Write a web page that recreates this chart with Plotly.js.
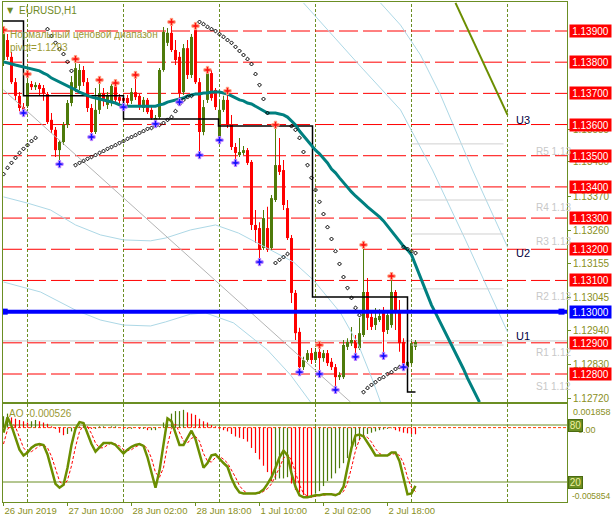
<!DOCTYPE html>
<html><head><meta charset="utf-8">
<script src="https://cdn.plot.ly/plotly-3.0.1.min.js"></script>
<style>html,body{margin:0;padding:0;background:#fff;}#chart{width:613px;height:523px;}</style>
</head><body><div id="chart"></div>
<script>
// ---------- DATA ----------
const tickIdx = [0,16,32,48,64,80,96];
const tickText = ['26 Jun 2019','27 Jun 10:00','28 Jun 02:00','28 Jun 18:00','1 Jul 10:00','2 Jul 02:00','2 Jul 18:00'];
const daySep = [6,30,54,78,102,126];

const open = [
1.13807,1.13871,1.13817,1.13736,1.13692,1.13656,1.13659,1.13730,1.13720,1.13727,
1.13717,1.13698,1.13615,1.13583,1.13518,1.13544,1.13599,1.13669,1.13717,1.13724,
1.13775,1.13736,1.13653,1.13576,1.13647,1.13701,1.13663,1.13669,1.13724,1.13688,
1.13685,1.13685,1.13676,1.13704,1.13692,1.13653,1.13679,1.13647,1.13615,1.13624,
1.13775,1.13862,1.13894,1.13839,1.13817,1.13704,1.13845,1.13759,1.13903,1.13736,
1.13576,1.13679,1.13765,1.13711,1.13557,1.13647,1.13679,1.13599,1.13528,1.13502,
1.13509,1.13518,1.13480,1.13278,1.13268,1.13204,1.13268,1.13204,1.13358,1.13470,
1.13454,1.13332,1.13236,1.13060,1.12935,1.12822,1.12845,1.12867,1.12845,1.12871,
1.12851,1.12867,1.12839,1.12822,1.12790,1.12790,1.12887,1.12899,1.12909,1.12883,
1.12925,1.13063,1.12983,1.12957,1.12973,1.12999,1.12941,1.12957,1.13063,1.13005,
1.12903,1.12822,1.12835,1.12887];
const high = [
1.13903,1.13890,1.13833,1.13749,1.13704,1.13669,1.13762,1.13740,1.13736,1.13733,
1.13727,1.13704,1.13637,1.13592,1.13550,1.13608,1.13679,1.13756,1.13810,1.13794,
1.13788,1.13749,1.13666,1.13717,1.13743,1.13717,1.13704,1.13730,1.13733,1.13698,
1.13692,1.13695,1.13717,1.13759,1.13698,1.13688,1.13685,1.13659,1.13631,1.13781,
1.13913,1.13910,1.13929,1.13871,1.13833,1.13858,1.13871,1.13890,1.13916,1.13749,
1.13679,1.13775,1.13775,1.13717,1.13679,1.13692,1.13708,1.13631,1.13541,1.13557,
1.13531,1.13525,1.13486,1.13326,1.13287,1.13326,1.13336,1.13374,1.13599,1.13557,
1.13486,1.13358,1.13246,1.13069,1.12948,1.12855,1.12877,1.12883,1.12883,1.12893,
1.12877,1.12877,1.12851,1.12832,1.12806,1.12909,1.12915,1.12951,1.12925,1.12980,
1.13214,1.13108,1.12996,1.13012,1.13008,1.13015,1.13005,1.13114,1.13069,1.13037,
1.12915,1.12861,1.12906,1.12909];
const low = [
1.13788,1.13807,1.13730,1.13679,1.13643,1.13637,1.13653,1.13711,1.13711,1.13692,
1.13676,1.13602,1.13573,1.13496,1.13473,1.13534,1.13589,1.13659,1.13704,1.13711,
1.13724,1.13640,1.13560,1.13570,1.13634,1.13659,1.13650,1.13659,1.13666,1.13659,
1.13656,1.13659,1.13666,1.13679,1.13647,1.13640,1.13634,1.13615,1.13602,1.13618,
1.13769,1.13852,1.13833,1.13791,1.13672,1.13695,1.13746,1.13749,1.13730,1.13502,
1.13566,1.13669,1.13676,1.13647,1.13550,1.13640,1.13589,1.13518,1.13477,1.13496,
1.13502,1.13470,1.13262,1.13220,1.13159,1.13198,1.13191,1.13198,1.13352,1.13438,
1.13326,1.13230,1.13028,1.12909,1.12806,1.12813,1.12839,1.12832,1.12835,1.12800,
1.12839,1.12826,1.12813,1.12749,1.12781,1.12784,1.12877,1.12890,1.12855,1.12877,
1.12919,1.12941,1.12941,1.12941,1.12967,1.12858,1.12928,1.12948,1.12941,1.12871,
1.12822,1.12819,1.12829,1.12877];
const close = [
1.13894,1.13817,1.13736,1.13692,1.13653,1.13647,1.13733,1.13720,1.13727,1.13714,
1.13701,1.13608,1.13583,1.13518,1.13544,1.13599,1.13669,1.13736,1.13781,1.13775,
1.13736,1.13653,1.13576,1.13647,1.13701,1.13679,1.13695,1.13724,1.13679,1.13676,
1.13676,1.13669,1.13704,1.13688,1.13656,1.13679,1.13640,1.13621,1.13621,1.13775,
1.13897,1.13894,1.13839,1.13807,1.13701,1.13845,1.13759,1.13881,1.13736,1.13576,
1.13656,1.13765,1.13685,1.13656,1.13647,1.13679,1.13599,1.13528,1.13509,1.13512,
1.13518,1.13477,1.13278,1.13262,1.13198,1.13300,1.13198,1.13364,1.13470,1.13448,
1.13342,1.13236,1.13060,1.12931,1.12822,1.12845,1.12867,1.12845,1.12871,1.12851,
1.12867,1.12835,1.12822,1.12790,1.12797,1.12893,1.12903,1.12909,1.12883,1.12931,
1.13063,1.12980,1.12951,1.12980,1.12986,1.12935,1.12989,1.13063,1.13005,1.12899,
1.12829,1.12839,1.12899,1.12903];

// shifted moving average (extends beyond last bar)
const ma = [
1.13801,1.13797,1.13794,1.13791,1.13788,1.13785,1.13781,1.13778,1.13775,1.13772,
1.13765,1.13759,1.13749,1.13743,1.13736,1.13730,1.13724,1.13717,1.13711,1.13704,
1.13698,1.13692,1.13688,1.13685,1.13682,1.13679,1.13676,1.13672,1.13669,1.13663,
1.13659,1.13659,1.13659,1.13659,1.13659,1.13659,1.13659,1.13659,1.13659,1.13663,
1.13666,1.13672,1.13676,1.13679,1.13682,1.13685,1.13692,1.13695,1.13698,1.13698,
1.13701,1.13701,1.13704,1.13704,1.13704,1.13701,1.13698,1.13692,1.13685,1.13679,
1.13676,1.13669,1.13666,1.13659,1.13650,1.13643,1.13637,1.13637,1.13637,1.13634,
1.13631,1.13624,1.13611,1.13599,1.13579,1.13563,1.13550,1.13534,1.13518,1.13506,
1.13490,1.13477,1.13457,1.13445,1.13429,1.13413,1.13397,1.13384,1.13371,1.13358,
1.13348,1.13336,1.13326,1.13313,1.13304,1.13291,1.13275,1.13259,1.13243,1.13227,
1.13210,1.13198,1.13182,1.13150,1.13117,1.13085,1.13053,1.13021,1.12996,1.12970,
1.12944,1.12922,1.12896,1.12871,1.12842,1.12816,1.12787,1.12762,1.12736,1.12710];

// parabolic SAR dots
const sar = [
1.13441,1.13461,1.13477,1.13493,1.13509,1.13522,1.13534,1.13547,1.13557,null,
null,1.13906,1.13884,1.13862,1.13842,1.13826,1.13801,1.13772,1.13470,1.13477,
1.13483,1.13490,1.13496,1.13502,1.13509,1.13515,1.13522,1.13528,1.13534,1.13541,
1.13547,1.13554,1.13560,1.13566,1.13573,1.13579,1.13586,1.13589,1.13595,1.13599,
1.13605,1.13615,1.13624,1.13643,1.13666,1.13679,1.13688,1.13692,null,1.13929,
1.13922,1.13913,1.13906,1.13900,1.13890,1.13881,1.13871,1.13862,1.13849,1.13836,
1.13823,1.13810,1.13794,1.13762,1.13727,1.13682,1.13637,null,1.13156,1.13166,
1.13175,1.13185,1.13595,1.13583,1.13557,1.13512,1.13470,1.13429,1.13390,1.13352,
1.13313,1.13271,1.13233,1.13194,1.13153,1.13111,1.13076,1.13044,1.13012,1.12989,
1.12742,1.12755,1.12765,1.12774,1.12784,1.12790,1.12800,1.12806,1.12816,1.12822,
1.13207,1.13201,1.13194,1.13188];

const fracUpIdx = [0,6,18,24,28,33,42,48,51,56,68,79,90,97];
const fracDnIdx = [5,14,22,30,38,44,49,54,58,64,74,79,83,88,95,100];

// daily step line
const stepIdx = [-0.75,5,30,53.75,77.25,101,103];
const stepVal = [1.13932,1.13692,1.13618,1.13595,1.13047,1.12742,1.12742];

// light-blue channel curves (bar index, price)
const lb1X = [0,6,11.75,18,24.25,30,36.75,40.5,46.75,53,58.75,66,72.5,77.5,84.25,88.75,92.25,94.25];
const lb1Y = [1.13368,1.13348,1.13326,1.13278,1.13246,1.13230,1.13227,1.13236,1.13262,1.13278,1.13252,1.13204,1.13159,1.13101,1.12996,1.12893,1.12781,1.12710];
const lb2X = [0,9.25,18,24.25,30,36.75,40.5,46.75,50.5,57.5,66,71.75,76.75];
const lb2Y = [1.13095,1.13063,1.13005,1.12973,1.12957,1.12954,1.12967,1.12992,1.12996,1.12964,1.12877,1.12797,1.12710];
const lb3X = [75,88.5,99.25,107.25,115.5,123.5,126];
const lb3Y = [1.13990,1.13797,1.13647,1.13454,1.13230,1.13005,1.12935];
const lb4X = [94.25,99.25,104.25,109.25,117.25,126];
const lb4Y = [1.13990,1.13919,1.13823,1.13695,1.13454,1.13207];
const grayX = [0,86.75];
const grayY = [1.13711,1.12710];
const oliveX = [113,126];
const oliveY = [1.13990,1.13631];

// horizontal levels
const redLevels = [1.1390,1.1380,1.1370,1.1360,1.1350,1.1340,1.1330,1.1320,1.1310,1.1290,1.1280];
const blueLevel = 1.1300;
const grayLevel = 1.12906;
const priceTicks = [1.13585,1.13480,1.13370,1.13260,1.13155,1.13045,1.12940,1.12830,1.12720];
const pivotNames = ['R5 1.13','R4 1.13','R3 1.13','R2 1.13','R1 1.12','S1 1.12'];
const pivotVals = [1.13538,1.13358,1.13249,1.13073,1.12893,1.12784];
const pivotFrom = 102, pivotTo = 125;
const uNames = ['U3','U2','U1'];
const uVals = [1.13615,1.13188,1.12922];

// indicator pane
const ao = [
0.0009,0.0011,0.0008,0.0007,0.0006,0.0005,0.0004,0.0005,0.0006,0.0005,
0.0004,0.0003,0.0001,-0.0001,-0.0004,-0.0006,-0.0005,-0.0003,-0.0001,0.0001,
0.0002,0.0001,-0.0001,-0.0001,0.0001,0.0001,0.0000,0.0001,0.0001,0.0000,
-0.0001,-0.0001,-0.0001,0.0000,-0.0001,-0.0001,-0.0002,-0.0002,-0.0002,0.0000,
0.0004,0.0008,0.0011,0.0013,0.0013,0.0014,0.0012,0.0011,0.0010,0.0007,
0.0005,0.0004,0.0002,0.0001,-0.0001,-0.0002,-0.0003,-0.0005,-0.0007,-0.0008,
-0.0009,-0.0011,-0.0016,-0.0020,-0.0025,-0.0030,-0.0035,-0.0042,-0.0041,-0.0040,
-0.0040,-0.0039,-0.0044,-0.0049,-0.0051,-0.0053,-0.0054,-0.0055,-0.0052,-0.0050,
-0.0046,-0.0042,-0.0040,-0.0036,-0.0032,-0.0028,-0.0024,-0.0019,-0.0015,-0.0010,
-0.0007,-0.0005,-0.0004,-0.0003,-0.0002,-0.00015,-0.0001,-0.00005,-0.0002,-0.0003,
-0.0004,-0.00045,-0.0005,-0.000526];
const stochMain = [72,88,79,67,54,48,51,56,59,60, 59,49,32,18,14,17,35,59,76,83, 82,70,60,52,56,61,61,61,59,54,
 50,54,57,59,60,58,46,30,14,32, 58,87,84,71,59,59,66,74,65,50, 35,40,48,49,44,40,36,24,15,9,
 8,8,8,8,9,12,18,25,35,46, 53,48,29,15,6,4,4,5,6,6, 7,7,7,6,8,15,35,56,69,70,
 68,62,55,48,48,48,48,51,51,42, 26,7,8,16];
const stochSignal = [60,75,82,78,67,56,51,52,55,58, 59,56,47,33,21,16,22,37,57,73, 80,78,71,61,56,56,59,61,60,58,
 54,53,54,57,59,59,55,45,30,25, 35,59,76,81,71,63,61,66,68,63, 50,42,41,46,47,44,40,33,25,16,
 11,8,8,8,8,10,13,18,26,35, 45,49,43,31,17,8,5,4,5,6, 6,7,7,7,7,10,19,35,53,65,
 69,67,62,55,50,48,48,49,50,48, 40,25,14,10];
const stochLevels = [80,20];
const aoMax = 0.001858, aoMin = -0.005854;

// ---------- BUILD ----------
const OLIVE = '#6b8e23', TXT = '#8a8f1c', BULL = '#4e7a0a', BEAR = '#ff0000';
const FONT = 'Liberation Sans, Arial, sans-serif';
const N = close.length;
const idx = Array.from({length:N},(_,i)=>i);
const cCol = idx.map(i => close[i] >= open[i] ? BULL : BEAR);
const PW = 564; const pxX = p => (p-3)/PW; const pxY = p => (502-p)/500;

const traces = [];
const line = (x,y,color,w,extra) => Object.assign({type:'scatter',mode:'lines',x,y,line:{color,width:w},hoverinfo:'skip',xaxis:'x',yaxis:'y'},extra||{});
traces.push(line(lb1X,lb1Y,'#add8e6',1));
traces.push(line(lb2X,lb2Y,'#add8e6',1));
traces.push(line(lb3X,lb3Y,'#add8e6',1));
traces.push(line(lb4X,lb4Y,'#add8e6',1));
traces.push(line(grayX,grayY,'#b4b4b4',1));
pivotVals.forEach(v => traces.push(line([pivotFrom,pivotTo],[v,v],'#d0d0d0',1)));
traces.push(line(stepIdx,stepVal,'#000000',1.5,{line:{color:'#000',width:1.5,shape:'hv'}}));
traces.push(line(ma.map((_,i)=>i),ma,'#008080',3));
// candles: wicks and bodies
traces.push({type:'bar',x:idx,base:low,y:idx.map(i=>high[i]-low[i]),width:0.25,marker:{color:cCol,line:{width:0}},hoverinfo:'skip',xaxis:'x',yaxis:'y'});
traces.push({type:'bar',x:idx,base:idx.map(i=>Math.min(open[i],close[i])),y:idx.map(i=>Math.max(Math.abs(close[i]-open[i]),0.00002)),width:0.75,marker:{color:cCol,line:{width:0}},hoverinfo:'skip',xaxis:'x',yaxis:'y'});
traces.push({type:'scatter',mode:'markers',x:idx,y:sar,marker:{symbol:'diamond-open',size:3,color:'#000',line:{width:1,color:'#000'}},hoverinfo:'skip',xaxis:'x',yaxis:'y'});
traces.push({type:'scatter',mode:'markers',x:fracUpIdx,y:fracUpIdx.map(i=>high[i]),marker:{symbol:'cross',size:6,color:'#ff1010',line:{width:1,color:'#ffa080'}},hoverinfo:'skip',xaxis:'x',yaxis:'y'});
traces.push({type:'scatter',mode:'markers',x:fracDnIdx,y:fracDnIdx.map(i=>low[i]),marker:{symbol:'cross',size:6,color:'#1010ff',line:{width:1,color:'#c080ff'}},hoverinfo:'skip',xaxis:'x',yaxis:'y'});
traces.push(line(oliveX,oliveY,'#6b8e00',2));
traces.push({type:'scatter',mode:'markers',x:[0.3,139.5],y:[blueLevel,blueLevel],marker:{symbol:'square',size:6,color:'#0000ff'},hoverinfo:'skip',xaxis:'x',yaxis:'y'});
// AO histogram
const aoCol = ao.map((v,i)=> (i===0 || v>=ao[i-1]) ? BULL : BEAR);
traces.push({type:'bar',x:idx,y:ao,width:0.3,marker:{color:aoCol,line:{width:0}},hoverinfo:'skip',xaxis:'x2',yaxis:'y2'});
// stochastic
traces.push({type:'scatter',mode:'lines',x:idx,y:stochSignal,line:{color:'#ff0000',width:1,dash:'3px,2px'},hoverinfo:'skip',xaxis:'x2',yaxis:'y3'});
traces.push({type:'scatter',mode:'lines',x:idx,y:stochMain,line:{color:'#6b8e00',width:2.5},hoverinfo:'skip',xaxis:'x2',yaxis:'y3'});

const shapes = [];
daySep.forEach(d => shapes.push({type:'line',xref:'x',yref:'paper',x0:d,x1:d,y0:0,y1:1,line:{color:OLIVE,width:1,dash:'3px,2px'},layer:'below'}));
redLevels.forEach(v => shapes.push({type:'line',xref:'paper',yref:'y',x0:0,x1:1,y0:v,y1:v,line:{color:'#ff0000',width:1,dash:'19px,5px'},layer:'below'}));
shapes.push({type:'line',xref:'paper',yref:'y',x0:0,x1:1,y0:grayLevel,y1:grayLevel,line:{color:'#c8c8c8',width:1},layer:'below'});
shapes.push({type:'line',xref:'paper',yref:'y',x0:0,x1:1,y0:blueLevel,y1:blueLevel,line:{color:'#0000ff',width:4},layer:'above'});
stochLevels.forEach(v => shapes.push({type:'line',xref:'paper',yref:'y3',x0:0,x1:1,y0:v,y1:v,line:{color:OLIVE,width:1},layer:'below'}));
shapes.push({type:'line',xref:'paper',yref:'y2',x0:0,x1:1,y0:0,y1:0,line:{color:'#ff4000',width:1,dash:'3px,2px'},layer:'below'});

const ann = [];
const rx = pxX(569);
redLevels.forEach(v => ann.push({xref:'paper',yref:'y',x:rx,y:v,xanchor:'left',yanchor:'middle',text:v.toFixed(5),showarrow:false,bgcolor:'#ff0000',font:{color:'#ffffff',size:10,family:FONT},width:41,height:12,align:'center',borderpad:0}));
ann.push({xref:'paper',yref:'y',x:rx,y:blueLevel,xanchor:'left',yanchor:'middle',text:blueLevel.toFixed(5),showarrow:false,bgcolor:'#0000ff',font:{color:'#ffffff',size:10,family:FONT},width:41,height:12,align:'center',borderpad:0});
pivotVals.forEach((v,k) => ann.push({xref:'x',yref:'y',x:132.5,y:v,xanchor:'left',yanchor:'top',text:pivotNames[k],showarrow:false,font:{color:'#c8c8c8',size:10,family:FONT}}));
uVals.forEach((v,k) => ann.push({xref:'x',yref:'y',x:127.5,y:v,xanchor:'left',yanchor:'middle',text:uNames[k],showarrow:false,font:{color:'#000040',size:11,family:FONT}}));
ann.push({xref:'paper',yref:'paper',x:pxX(10),y:pxY(10),xanchor:'center',yanchor:'middle',text:'▼',showarrow:false,font:{color:'#6f8a25',size:8,family:'DejaVu Sans'}});
ann.push({xref:'paper',yref:'paper',x:pxX(17),y:pxY(10),xanchor:'left',yanchor:'middle',text:'EURUSD,H1',showarrow:false,font:{color:'#6f8a25',size:10,family:FONT}});
ann.push({xref:'paper',yref:'paper',x:pxX(8),y:pxY(35),xanchor:'left',yanchor:'middle',text:'Нормальный ценовой диапазон',showarrow:false,font:{color:'#999933',size:10,family:FONT}});
ann.push({xref:'paper',yref:'paper',x:pxX(8),y:pxY(48),xanchor:'left',yanchor:'middle',text:'pivot=1.1293',showarrow:false,font:{color:'#999933',size:10,family:FONT}});
ann.push({xref:'paper',yref:'paper',x:pxX(7),y:pxY(413),xanchor:'left',yanchor:'middle',text:'AO -0.000526',showarrow:false,font:{color:'#999933',size:10,family:FONT}});
ann.push({xref:'paper',yref:'paper',x:pxX(571),y:pxY(412),xanchor:'left',yanchor:'middle',text:aoMax.toFixed(6),showarrow:false,font:{color:TXT,size:9,family:FONT}});
ann.push({xref:'paper',yref:'paper',x:pxX(570),y:pxY(496),xanchor:'left',yanchor:'middle',text:aoMin.toFixed(6),showarrow:false,font:{color:TXT,size:8.5,family:FONT}});
ann.push({xref:'paper',yref:'paper',x:pxX(576),y:pxY(430),xanchor:'left',yanchor:'middle',text:'0.00',showarrow:false,font:{color:TXT,size:9,family:FONT}});
stochLevels.forEach(v => ann.push({xref:'paper',yref:'y3',x:pxX(568),y:v,xanchor:'left',yanchor:'middle',text:String(v),showarrow:false,bgcolor:OLIVE,bordercolor:'#4a6a10',borderwidth:1,font:{color:'#f0f0a0',size:10,family:FONT},width:13,height:11,borderpad:0}));

const xr = [-0.125,140.875];
const layout = {
  width:613,height:523,margin:{l:3,r:46,t:2,b:21,pad:0},
  paper_bgcolor:'#ffffff',plot_bgcolor:'#ffffff',showlegend:false,barmode:'overlay',
  font:{family:FONT,size:10,color:TXT},
  xaxis:{domain:[0,1],anchor:'y',range:xr,showticklabels:false,ticks:'',showgrid:false,zeroline:false,showline:true,mirror:true,linecolor:OLIVE,linewidth:1,fixedrange:true},
  yaxis:{domain:[0.2,1],anchor:'x',range:[1.127102,1.13993],side:'right',tickmode:'array',tickvals:priceTicks,ticktext:priceTicks.map(v=>v.toFixed(5)),ticks:'outside',ticklen:3,tickcolor:OLIVE,tickfont:{size:10,color:TXT,family:FONT},showgrid:false,zeroline:false,showline:true,mirror:true,linecolor:OLIVE,fixedrange:true},
  xaxis2:{domain:[0,1],anchor:'y2',range:xr,tickmode:'array',tickvals:tickIdx,ticktext:tickText,ticks:'outside',ticklen:3,tickcolor:OLIVE,ticklabelposition:'outside right',tickfont:{size:9.5,color:TXT,family:FONT},showgrid:false,zeroline:false,showline:true,mirror:true,linecolor:OLIVE,fixedrange:true},
  yaxis2:{domain:[0,0.196],anchor:'x2',range:[aoMin,aoMax],showticklabels:false,ticks:'',showgrid:false,zeroline:false,showline:true,mirror:true,linecolor:OLIVE,fixedrange:true},
  yaxis3:{overlaying:'y2',anchor:'x2',range:[-1.05,102.1],visible:false,fixedrange:true},
  shapes:shapes,annotations:ann
};
Plotly.newPlot('chart',traces,layout,{staticPlot:true,displayModeBar:false});
</script></body></html>
